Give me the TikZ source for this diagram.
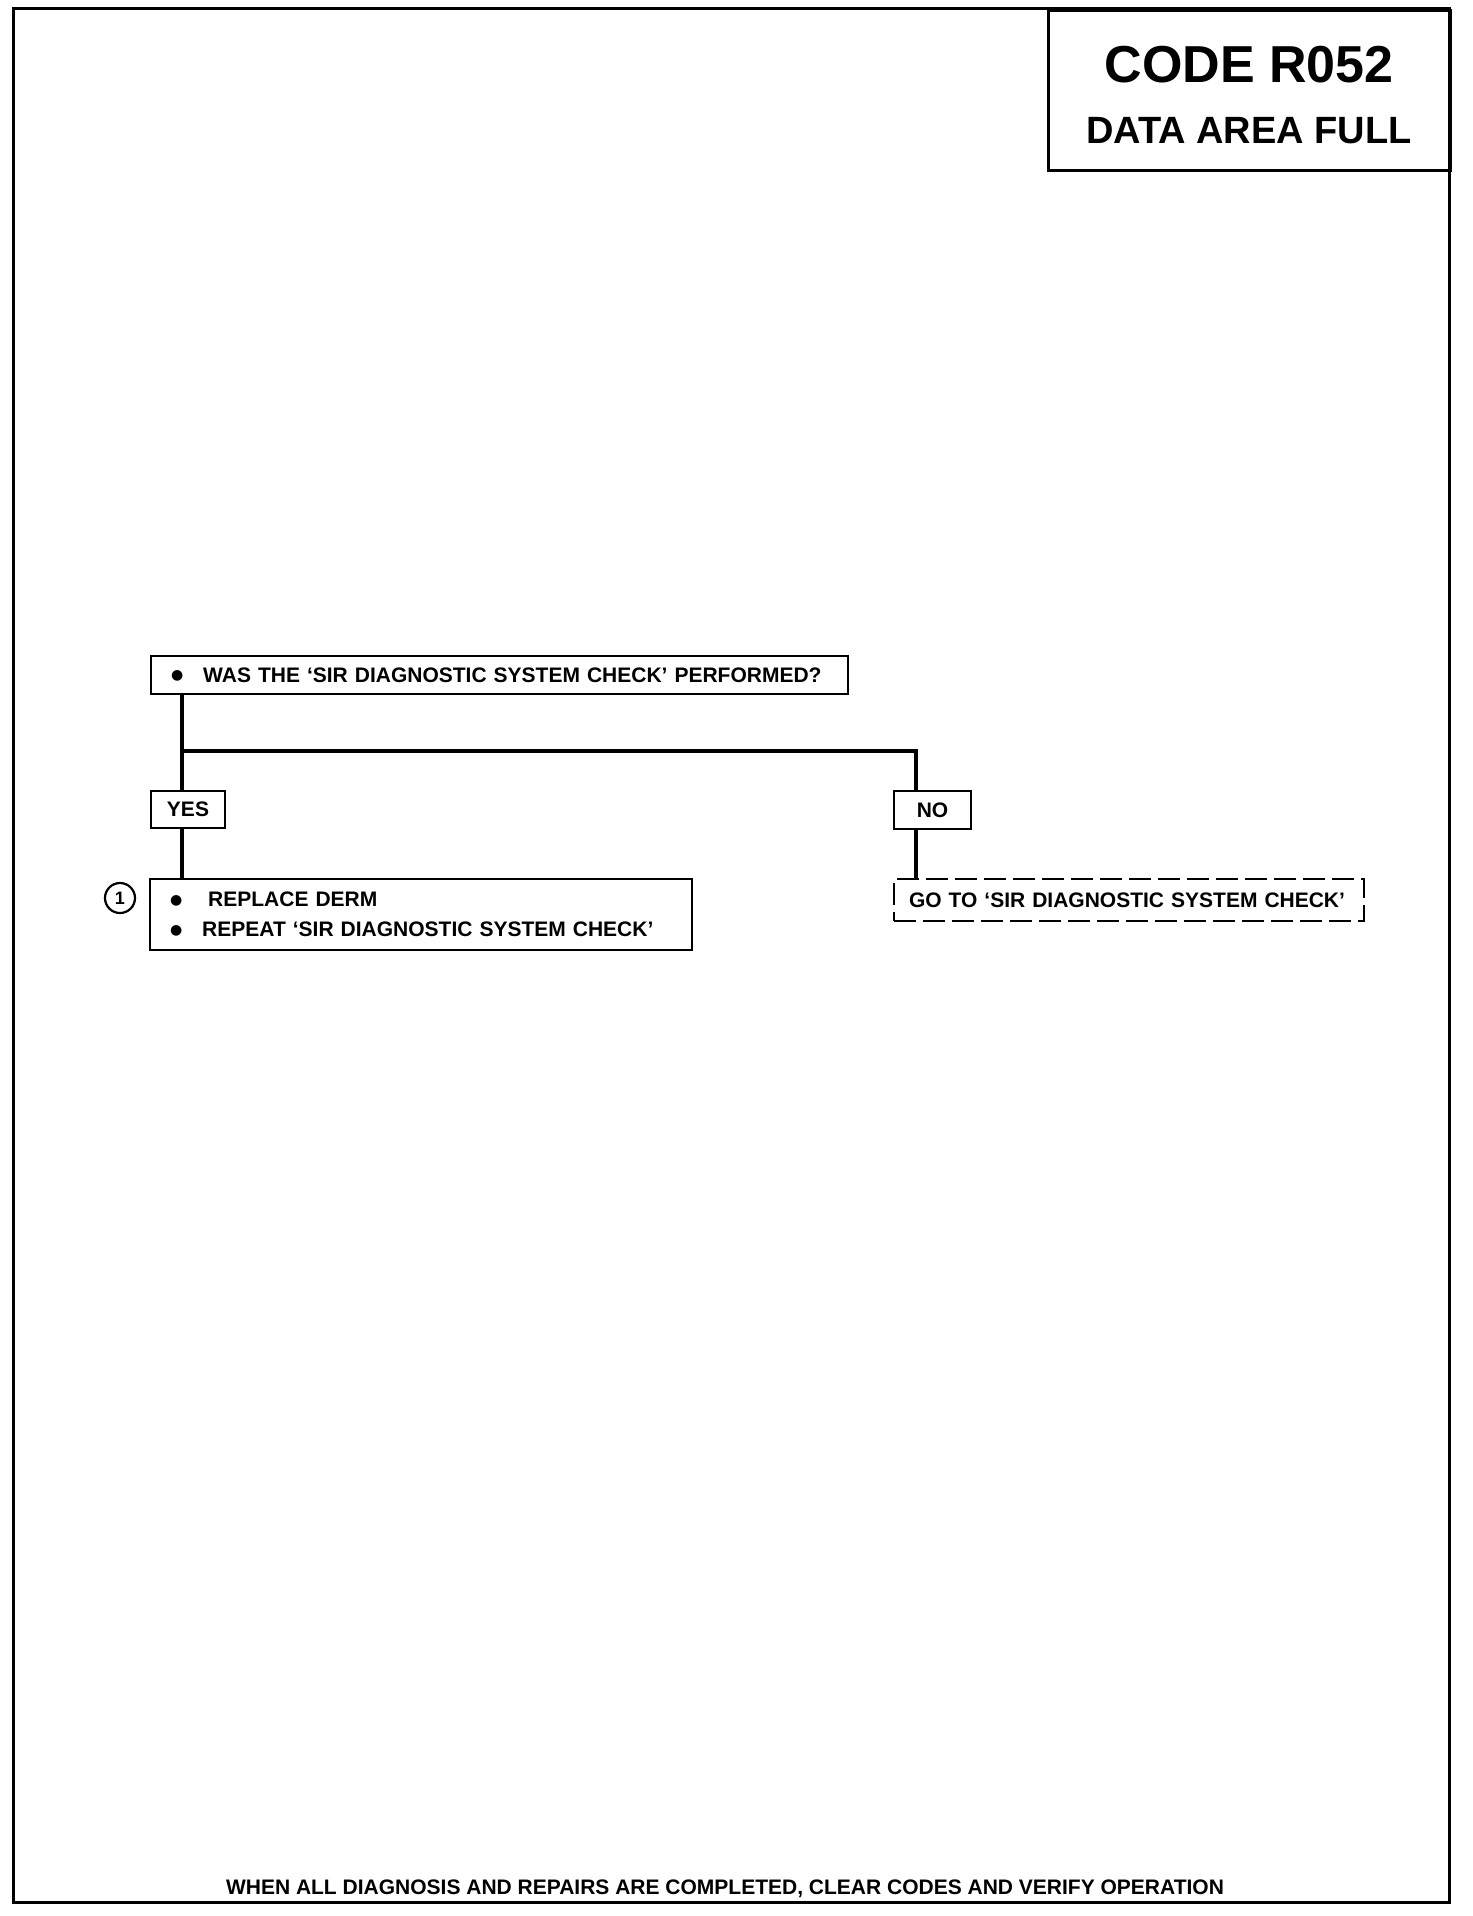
\documentclass[tikz,border=0pt]{standalone}
\usepackage{fontspec}
\setmainfont{Liberation Sans}
\newfontfamily\medfont{Liberation Sans Bold}
\newfontfamily\dejfont{DejaVu Sans}
\newcommand{\blt}{\raisebox{1.2pt}{\dejfont\fontsize{7pt}{7pt}\selectfont ●}}
\begin{document}
\begin{tikzpicture}[x=0.5pt,y=-0.5pt,
  every node/.style={font=\medfont\fontsize{10.5pt}{15pt}\selectfont},
  box/.style={draw,line width=1pt,inner sep=0pt,anchor=north west},
  lbl/.style={draw,line width=1pt,inner sep=0pt,anchor=north west,align=center},
  conn/.style={line width=2pt},
  frame/.style={line width=1.5pt}]
\useasboundingbox (0,0) rectangle (1472,1916);
% outer frame
\draw[frame] (13,9) rectangle (1449,1902);
% title box
\node[draw,line width=1.3pt,anchor=north west,minimum width=201pt,minimum height=80pt,inner sep=0pt] (title) at (1047,9) {};
\node[font=\fontsize{26pt}{30pt}\selectfont\bfseries] (code) at (1249,65) {CODE R052};
\node[font=\fontsize{19pt}{22pt}\selectfont\bfseries] (area) at (1249,131) {DATA AREA FULL};
% question
\node[box,minimum width=348.5pt,minimum height=19pt,text width=328.5pt,inner xsep=10pt,align=left] (q) at (150,655)
  {\blt\hspace{10pt}WAS THE ‘SIR DIAGNOSTIC SYSTEM CHECK’ PERFORMED?};
% yes / no
\node[lbl,minimum width=37pt,minimum height=18.5pt] (yes) at (150,790) {YES};
\node[lbl,minimum width=38.5pt,minimum height=19pt] (no) at (893,790) {NO};
% answer
\node[box,minimum width=271pt,minimum height=35.5pt,text width=251pt,inner xsep=10pt,align=left] (ans) at (149,878)
  {\blt\hspace{13pt}REPLACE DERM\\\blt\hspace{10pt}REPEAT ‘SIR DIAGNOSTIC SYSTEM CHECK’};
\node[draw,circle,line width=1.1pt,minimum size=15pt,inner sep=0pt,font=\medfont\fontsize{9pt}{10pt}\selectfont] (one) at (120,898) {1};
% go to
\node[box,dash pattern=on 11pt off 3.5pt,minimum width=235pt,minimum height=21pt,text width=220pt,inner xsep=7.5pt,align=left] (go) at (893,878)
  {GO TO ‘SIR DIAGNOSTIC SYSTEM CHECK’};
% connectors
\coordinate (j) at (182,751);
\coordinate (jr) at (916,751);
\draw[conn] (j |- q.south) -- (j) -- (jr) -- (jr |- no.north);
\draw[conn] (j) -- (j |- yes.north);
\draw[conn] (j |- yes.south) -- (j |- ans.north);
\draw[conn] (jr |- no.south) -- (jr |- go.north);
% footer
\node[font=\medfont\fontsize{10.5pt}{12pt}\selectfont] (foot) at (725,1889) {WHEN ALL DIAGNOSIS AND REPAIRS ARE COMPLETED, CLEAR CODES AND VERIFY OPERATION};
\end{tikzpicture}
\end{document}
